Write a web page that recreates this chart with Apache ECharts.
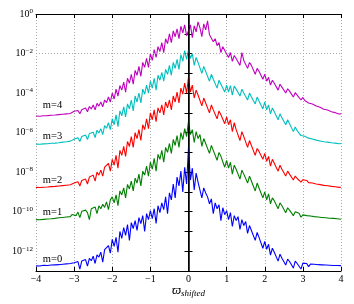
<!DOCTYPE html>
<html><head><meta charset="utf-8">
<script src="https://cdn.jsdelivr.net/npm/echarts@6/dist/echarts.min.js"></script>
<style>html,body{margin:0;padding:0;background:#fff}#c{width:354px;height:304px}</style>
</head><body><div id="c"></div>
<script>
// sampling grid of the spectra (x from -4 to 4, step 0.05)
const X_START = -4, X_STEP = 0.05, N_POINTS = 161;

// log10 of the spectrum values (one row = one x unit)
const m0Exp = [
-12.74,-12.72,-12.75,-12.73,-12.71,-12.74,-12.72,-12.76,-12.70,-12.73,-12.69,-12.74,-12.68,-12.72,-12.66,-12.71,-12.64,-12.69,-12.62,-12.70,
-12.58,-12.66,-12.52,-12.90,-12.50,-12.58,-12.42,-12.75,-12.36,-12.48,-12.25,-12.62,-12.18,-12.30,-12.05,-12.55,-11.92,-12.02,-11.72,-12.10,
-11.40,-11.75,-11.30,-12.05,-11.00,-11.35,-10.80,-11.20,-10.65,-11.45,-10.55,-10.85,-10.45,-10.95,-10.30,-10.60,-10.20,-11.00,-10.10,-10.40,
-9.95,-10.35,-9.85,-10.60,-9.70,-10.05,-9.55,-9.90,-9.25,-10.10,-9.05,-9.40,-8.60,-9.30,-8.25,-8.70,-7.95,-9.00,-7.75,-8.60,
-6.75,-8.40,-7.80,-8.90,-8.05,-8.50,-8.45,-9.30,-8.80,-9.05,-9.25,-9.60,-9.35,-10.10,-9.55,-9.85,-9.65,-10.45,-9.80,-10.15,
-9.95,-10.40,-10.05,-10.75,-10.20,-10.45,-10.25,-10.90,-10.40,-10.70,-10.50,-11.10,-10.70,-10.95,-10.85,-11.45,-11.05,-11.30,-11.25,-11.85,
-11.50,-11.90,-11.65,-12.20,-11.85,-12.05,-12.00,-12.50,-12.15,-12.35,-12.30,-12.70,-12.40,-12.52,-12.45,-12.85,-12.50,-12.62,-12.58,-12.90,
-12.60,-12.68,-12.62,-12.78,-12.65,-12.70,-12.66,-12.74,-12.68,-12.72,-12.69,-12.76,-12.70,-12.73,-12.71,-12.75,-12.72,-12.74,-12.72,-12.75,
-12.73];
const m1Exp = [
-10.40,-10.37,-10.41,-10.36,-10.39,-10.34,-10.37,-10.33,-10.36,-10.29,-10.34,-10.27,-10.31,-10.24,-10.29,-10.21,-10.27,-10.18,-10.25,-10.14,
-10.10,-10.20,-10.02,-10.30,-9.98,-10.08,-9.92,-10.05,-10.40,-9.85,-9.95,-9.76,-10.10,-9.70,-9.85,-9.62,-9.78,-9.50,-9.90,-9.40,
-9.25,-9.55,-9.15,-9.70,-8.95,-9.15,-8.80,-9.30,-8.62,-8.85,-8.45,-8.95,-8.30,-8.55,-8.10,-8.70,-7.95,-8.15,-7.70,-8.20,
-7.50,-7.85,-7.30,-7.95,-7.10,-7.35,-6.90,-7.50,-6.75,-7.00,-6.55,-7.05,-6.35,-6.65,-6.15,-6.75,-6.00,-6.35,-5.80,-6.20,
-5.42,-6.10,-5.85,-6.50,-5.95,-6.30,-6.10,-6.70,-6.30,-6.55,-6.50,-7.05,-6.65,-6.90,-6.80,-7.40,-7.00,-7.20,-7.15,-7.75,
-7.40,-7.80,-7.50,-8.10,-7.65,-7.85,-7.75,-8.35,-7.90,-8.10,-8.05,-8.55,-8.20,-8.45,-8.35,-8.95,-8.55,-8.80,-8.75,-9.30,
-9.00,-9.40,-9.10,-9.60,-9.30,-9.45,-9.40,-9.85,-9.55,-9.70,-9.70,-10.05,-9.80,-9.92,-9.90,-10.20,-10.00,-10.10,-10.08,-10.28,
-10.16,-10.24,-10.20,-10.30,-10.22,-10.28,-10.25,-10.33,-10.27,-10.32,-10.29,-10.36,-10.31,-10.35,-10.33,-10.38,-10.34,-10.37,-10.36,-10.40,
-10.38];
const m2Exp = [
-8.77,-8.75,-8.78,-8.73,-8.76,-8.72,-8.75,-8.70,-8.73,-8.68,-8.72,-8.65,-8.70,-8.63,-8.68,-8.60,-8.66,-8.57,-8.64,-8.55,
-8.55,-8.62,-8.48,-8.70,-8.42,-8.50,-8.35,-8.60,-8.25,-8.32,-8.15,-8.45,-8.00,-8.15,-7.90,-8.20,-7.75,-7.85,-7.55,-7.95,
-7.35,-7.65,-7.15,-7.80,-6.90,-7.15,-6.70,-7.20,-6.45,-6.70,-6.20,-6.75,-6.00,-6.30,-5.85,-6.40,-5.60,-5.85,-5.30,-5.80,
-5.00,-5.35,-4.85,-5.45,-4.75,-5.00,-4.60,-5.10,-4.45,-4.75,-4.35,-4.85,-4.15,-4.45,-3.95,-4.50,-3.75,-4.05,-3.50,-4.00,
-3.20,-3.95,-3.60,-4.25,-3.85,-4.10,-4.05,-4.65,-4.25,-4.50,-4.45,-5.00,-4.60,-4.85,-4.75,-5.30,-4.90,-5.10,-5.05,-5.55,
-5.20,-5.60,-5.35,-5.95,-5.50,-5.85,-5.75,-6.40,-5.95,-6.20,-6.25,-6.75,-6.40,-6.65,-6.60,-7.15,-6.80,-6.95,-6.95,-7.35,
-7.05,-7.45,-7.20,-7.70,-7.35,-7.55,-7.50,-7.95,-7.65,-7.85,-7.85,-8.20,-7.95,-8.10,-8.10,-8.40,-8.20,-8.32,-8.28,-8.50,
-8.38,-8.46,-8.42,-8.53,-8.48,-8.55,-8.52,-8.60,-8.56,-8.63,-8.60,-8.67,-8.63,-8.69,-8.66,-8.72,-8.69,-8.74,-8.72,-8.77,
-8.76];
const m3Exp = [
-6.58,-6.56,-6.59,-6.55,-6.57,-6.53,-6.56,-6.51,-6.54,-6.49,-6.53,-6.46,-6.51,-6.43,-6.48,-6.40,-6.46,-6.36,-6.43,-6.33,
-6.33,-6.40,-6.26,-6.45,-6.20,-6.30,-6.12,-6.35,-6.05,-6.15,-5.98,-6.25,-5.88,-6.02,-5.80,-6.10,-5.65,-5.78,-5.50,-5.85,
-5.30,-5.60,-5.10,-5.70,-4.90,-5.15,-4.70,-5.20,-4.55,-4.80,-4.35,-4.90,-4.15,-4.45,-4.00,-4.50,-3.80,-4.05,-3.60,-4.00,
-3.40,-3.75,-3.25,-3.85,-3.10,-3.35,-2.95,-3.40,-2.80,-3.05,-2.60,-3.10,-2.45,-2.75,-2.30,-2.80,-2.05,-2.40,-1.85,-2.30,
-1.82,-2.25,-2.00,-2.60,-2.20,-2.45,-2.45,-3.00,-2.65,-2.90,-2.90,-3.40,-3.05,-3.30,-3.25,-3.75,-3.35,-3.55,-3.50,-3.95,
-3.60,-3.95,-3.62,-4.10,-3.65,-3.80,-3.70,-4.15,-3.80,-4.00,-3.90,-4.35,-4.00,-4.20,-4.15,-4.55,-4.20,-4.40,-4.35,-4.80,
-4.45,-4.85,-4.60,-5.05,-4.75,-4.95,-4.90,-5.35,-5.05,-5.25,-5.20,-5.60,-5.35,-5.55,-5.55,-5.95,-5.72,-5.90,-5.88,-6.15,
-6.05,-6.18,-6.12,-6.28,-6.20,-6.32,-6.26,-6.38,-6.33,-6.42,-6.38,-6.46,-6.41,-6.48,-6.44,-6.51,-6.47,-6.53,-6.50,-6.56,
-6.55];
const m4Exp = [
-5.16,-5.14,-5.17,-5.13,-5.15,-5.11,-5.14,-5.09,-5.12,-5.07,-5.11,-5.04,-5.09,-5.02,-5.07,-4.99,-5.05,-4.96,-5.03,-4.93,
-4.92,-5.00,-4.88,-5.05,-4.84,-4.92,-4.76,-4.95,-4.68,-4.80,-4.60,-4.85,-4.52,-4.66,-4.45,-4.70,-4.35,-4.48,-4.20,-4.45,
-4.00,-4.30,-3.80,-4.15,-3.62,-3.85,-3.45,-3.95,-3.25,-3.50,-3.05,-3.55,-2.85,-3.10,-2.65,-3.15,-2.45,-2.70,-2.25,-2.70,
-2.00,-2.35,-1.80,-2.20,-1.65,-1.90,-1.45,-1.95,-1.25,-1.50,-1.00,-1.45,-0.85,-1.15,-0.75,-1.25,-0.62,-0.95,-0.55,-1.10,
-0.85,-0.55,-1.20,-0.60,-0.90,-0.40,-0.70,-1.15,-0.50,-0.80,-0.35,-1.05,-0.95,-1.40,-1.25,-1.60,-1.45,-1.95,-1.65,-1.85,
-1.85,-2.20,-1.95,-2.40,-2.10,-2.25,-2.20,-2.60,-1.95,-2.35,-2.40,-2.75,-2.45,-2.60,-2.65,-3.05,-2.75,-2.90,-2.95,-3.30,
-3.05,-3.40,-3.20,-3.60,-3.35,-3.50,-3.45,-3.85,-3.55,-3.70,-3.70,-4.00,-3.78,-3.90,-3.90,-4.20,-3.98,-4.10,-4.12,-4.35,
-4.22,-4.38,-4.30,-4.50,-4.40,-4.55,-4.48,-4.65,-4.57,-4.72,-4.66,-4.82,-4.74,-4.86,-4.82,-4.94,-4.88,-4.99,-4.95,-5.06,
-5.05];

const seriesNames = ['m=0', 'm=1', 'm=2', 'm=3', 'm=4'];
const seriesExps = [m0Exp, m1Exp, m2Exp, m3Exp, m4Exp];
const seriesColors = ['#0000ff', '#008000', '#ff0000', '#00bfbf', '#bf00bf'];
const labelX = -3.82;
const labelExp = [-12.42, -10.02, -8.42, -6.17, -4.60];
const gridExps = [-2, -4, -6, -8, -10, -12];
const X_MIN = -4, X_MAX = 4, X_INTERVAL = 1;
const Y_MIN = 1e-13, Y_MAX = 1;

const FONT = '"Liberation Serif", "DejaVu Serif", serif';
const xs = Array.from({length: N_POINTS}, (_, i) => +(X_START + i * X_STEP).toFixed(2));
const minus = (v) => (v < 0 ? '\u2212' + (-v) : String(v));

const series = seriesExps.map((arr, k) => ({
  type: 'line', name: seriesNames[k], z: 2,
  data: arr.map((e, i) => [xs[i], Math.pow(10, e)]),
  showSymbol: false, symbol: 'none',
  lineStyle: {color: seriesColors[k], width: 1.1},
  itemStyle: {color: seriesColors[k]},
  silent: true,
  markPoint: {
    symbol: 'circle', symbolSize: 0, silent: true,
    data: [{coord: [labelX, Math.pow(10, labelExp[k])], value: seriesNames[k]}],
    label: {show: true, position: 'right', distance: 0, formatter: seriesNames[k],
      color: '#000', fontFamily: FONT, fontSize: 10.5}
  }
}));

series.unshift({
  type: 'line', data: [], z: 1, silent: true,
  markLine: {
    silent: true, symbol: 'none', label: {show: false},
    lineStyle: {color: '#a8a8a8', width: 1, type: [1, 2]},
    data: gridExps.map(e => ({yAxis: Math.pow(10, e)}))
  }
});
series.push({
  type: 'line', data: [], z: 3, silent: true,
  markLine: {
    silent: true, symbol: 'none', label: {show: false},
    lineStyle: {color: '#000', width: 1.5, type: 'solid'},
    data: [{xAxis: 0}]
  }
});

const axisLineStyle = {show: true, lineStyle: {color: '#000', width: 1}};
const tickStyle = {show: true, inside: true, length: 4, lineStyle: {color: '#000', width: 1}};

const option = {
  animation: false,
  backgroundColor: '#fff',
  grid: {left: 36, right: 13, top: 14, bottom: 33, containLabel: false, outerBoundsMode: 'none'},
  xAxis: [{
    type: 'value', min: X_MIN, max: X_MAX, interval: X_INTERVAL, position: 'bottom',
    axisLine: axisLineStyle, axisTick: tickStyle,
    axisLabel: {formatter: minus, color: '#000', fontFamily: FONT, fontSize: 10, margin: 3},
    splitLine: {show: true, lineStyle: {color: '#a8a8a8', width: 1, type: [1, 2]}},
    name: '{v|\u03d6}{s|shifted}', nameLocation: 'middle', nameGap: 12, nameMoveOverlap: false,
    nameTextStyle: {rich: {
      v: {fontSize: 13, fontStyle: 'italic', fontFamily: FONT, color: '#000', lineHeight: 15},
      s: {fontSize: 9, fontStyle: 'italic', fontFamily: FONT, color: '#000', verticalAlign: 'bottom', lineHeight: 9}
    }}
  }, {
    type: 'value', min: X_MIN, max: X_MAX, interval: X_INTERVAL, position: 'top',
    axisLine: axisLineStyle, axisTick: tickStyle, axisLabel: {show: false}, splitLine: {show: false}
  }],
  yAxis: [{
    type: 'log', logBase: 10, min: Y_MIN, max: Y_MAX, interval: 1, position: 'left',
    axisLine: axisLineStyle, axisTick: tickStyle,
    axisLabel: {
      margin: 3, fontFamily: FONT, color: '#000',
      formatter: (v) => {
        const e = Math.round(Math.log10(v));
        if (e % 2 !== 0) return '';
        return '{b|10}{s|' + minus(e) + '}';
      },
      rich: {
        b: {fontSize: 10, fontFamily: FONT, color: '#000', lineHeight: 12},
        s: {fontSize: 7, fontFamily: FONT, color: '#000', verticalAlign: 'top', lineHeight: 7}
      }
    },
    splitLine: {show: false}
  }, {
    type: 'log', logBase: 10, min: Y_MIN, max: Y_MAX, interval: 1, position: 'right',
    axisLine: axisLineStyle, axisTick: tickStyle, axisLabel: {show: false}, splitLine: {show: false}
  }],
  series: series
};

const chart = echarts.init(document.getElementById('c'), null, {renderer: 'canvas'});
chart.setOption(option);
</script>
</body></html>
